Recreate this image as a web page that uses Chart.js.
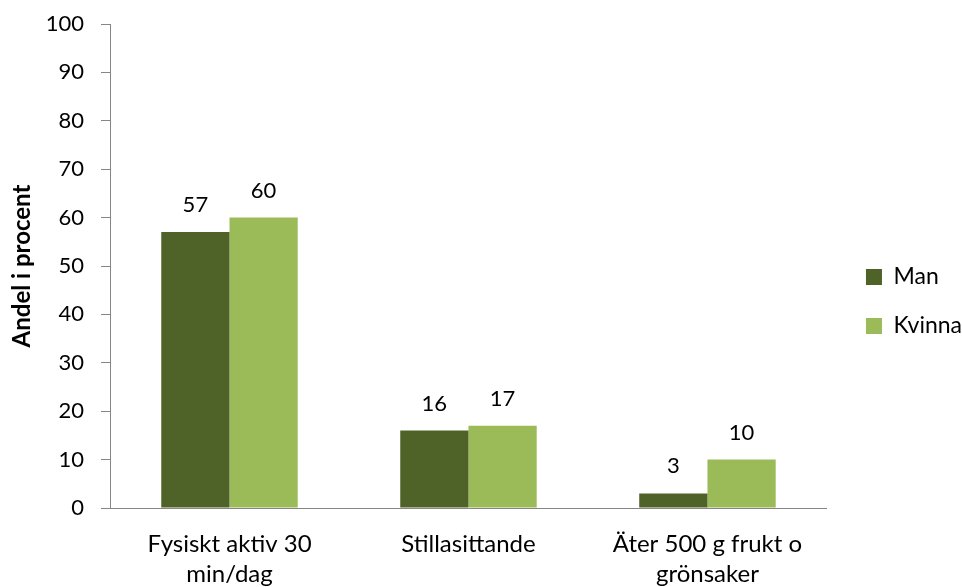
<!DOCTYPE html>
<html><head><meta charset="utf-8">
<script src="https://cdn.jsdelivr.net/npm/chart.js@4"></script>
<style>html,body{margin:0;padding:0;background:#fff}#wrap{width:962px;height:587px}</style>
</head><body><div id="wrap"><canvas id="c" width="962" height="587"></canvas></div>
<script>
const categories = [["Fysiskt aktiv 30","min/dag"],["Stillasittande"],["Äter 500 g frukt o","grönsaker"]];
const seriesNames = ["Man","Kvinna"];
const manValues = [57,16,3];
const kvinnaValues = [60,17,10];
const yTicks = [0,10,20,30,40,50,60,70,80,90,100];

const FONT = "Lato, 'Open Sans', sans-serif";
const labelPlugin = {
  id:'vals',
  afterLayout(chart){
    if(chart.legend){
      chart.legend.left += 13; chart.legend.right += 13;
      chart.legend.top -= 4; chart.legend.bottom -= 4;
    }
  },
  afterDatasetsDraw(chart){
    const ctx = chart.ctx;
    ctx.save();
    ctx.font = "22px " + FONT;
    ctx.fillStyle = "#000";
    ctx.textAlign = "center";
    ctx.textBaseline = "alphabetic";
    chart.data.datasets.forEach((ds,i)=>{
      chart.getDatasetMeta(i).data.forEach((bar,j)=>{
        ctx.fillText(String(ds.data[j]), bar.x, bar.y - 20);
      });
    });
    ctx.restore();
  }
};
new Chart(document.getElementById('c'),{
  type:'bar',
  data:{labels:categories,datasets:[
    {label:seriesNames[0],data:manValues,backgroundColor:'#4F6228',barPercentage:1,categoryPercentage:0.571},
    {label:seriesNames[1],data:kvinnaValues,backgroundColor:'#9BBB59',barPercentage:1,categoryPercentage:0.571}
  ]},
  options:{
    responsive:false,animation:false,
    layout:{padding:{top:24,right:3,bottom:0,left:0}},
    plugins:{
      legend:{position:'right',align:'center',labels:{boxWidth:16,boxHeight:16,padding:26,color:'#000',font:{family:FONT,size:23}}},
      tooltip:{enabled:false}
    },
    scales:{
      x:{grid:{display:false},border:{color:'#868686',width:1},
         afterFit(ax){ax.height=79;},
         ticks:{color:'#000',font:{family:FONT,size:24,lineHeight:1.25},padding:13,maxRotation:0,autoSkip:false}},
      y:{min:0,max:100,afterBuildTicks(ax){ax.ticks=yTicks.map(v=>({value:v}));},
         afterFit(ax){ax.width=110; ax.paddingTop=0; ax.paddingBottom=0;},
         grid:{drawOnChartArea:false,tickLength:9,color:'#868686'},
         border:{color:'#868686',width:1},
         ticks:{color:'#000',font:{family:FONT,size:22},padding:17},
         title:{display:true,text:'Andel i procent',color:'#000',padding:{top:8,bottom:4},font:{family:FONT,size:24,weight:'bold'}}}
    }
  },
  plugins:[labelPlugin]
});
</script></body></html>
